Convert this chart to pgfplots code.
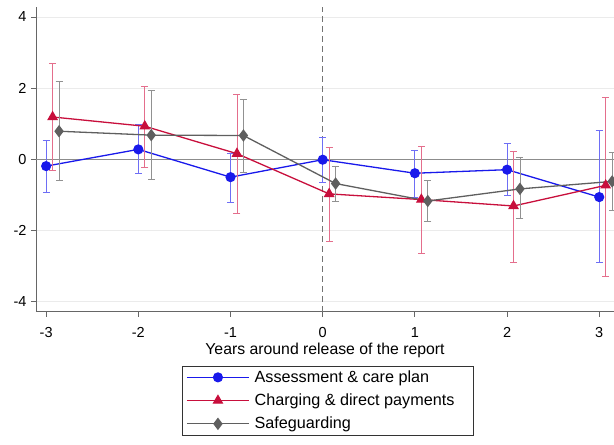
\documentclass[border=0pt]{standalone}
\usepackage{fontspec}
\setmainfont{Liberation Sans}
\usepackage{pgfplots}
\pgfplotsset{compat=1.18}
\definecolor{cblue}{RGB}{25,25,235}
\definecolor{cred}{RGB}{200,15,60}
\definecolor{cgray}{RGB}{95,95,95}
\definecolor{lblue}{RGB}{110,110,245}
\definecolor{lred}{RGB}{228,110,140}
\definecolor{lgray}{RGB}{145,145,145}
\pgfplotstableread{
x y ep em
-3 -0.19 0.72 0.73
-2 0.28 0.71 0.68
-1 -0.50 0.68 0.70
0 -0.01 0.62 0.63
1 -0.39 0.64 0.67
2 -0.29 0.73 0.73
3 -1.06 1.86 1.83
}\assess
\pgfplotstableread{
x y ep em
-2.93 1.19 1.50 1.50
-1.93 0.93 1.13 1.15
-0.93 0.16 1.66 1.69
0.07 -0.97 1.31 1.33
1.07 -1.13 1.48 1.51
2.07 -1.31 1.52 1.58
3.07 -0.73 2.48 2.56
}\charging
\pgfplotstableread{
x y ep em
-2.86 0.79 1.41 1.39
-1.86 0.68 1.26 1.25
-0.86 0.67 1.02 1.04
0.14 -0.68 0.49 0.50
1.14 -1.17 0.57 0.57
2.14 -0.83 0.89 0.84
3.14 -0.62 0.81 0.82
}\safe
\begin{document}
\begin{tikzpicture}
\begin{axis}[
  scale only axis, width=578pt, height=304.7pt,
  xmin=-3.11, xmax=3.16, ymin=-4.28, ymax=4.28,
  axis x line*=bottom, axis y line*=left,
  axis line style={draw=black!60, line width=0.8pt, -},
  xtick={-3,...,3}, ytick={-4,-2,0,2,4},
  tick align=outside, major tick length=5pt,
  tick style={black!60, line width=0.8pt},
  ticklabel style={font=\fontsize{14.5}{16}\selectfont},
  xticklabel style={yshift=-7pt},
  yticklabel style={xshift=-1pt},
  /pgf/number format/assume math mode=true,
  ymajorgrids, grid style={black!8, line width=0.8pt},
  xlabel={Years around release of the report},
  xlabel style={font=\fontsize{15.8}{18}\selectfont, yshift=1pt},
  clip=false,
  legend style={at={(axis description cs:0.2526,-0.178)}, anchor=north west,
    draw=black!80, line width=0.6pt, font=\fontsize{16.2}{19}\selectfont,
    row sep=6pt, inner xsep=4pt, inner ysep=2.5pt,
    nodes={inner xsep=5pt}},
  legend cell align=left,
  legend image code/.code={\draw[mark repeat=2,mark phase=2,#1] plot coordinates {(0pt,0pt) (31pt,0pt) (62pt,0pt)};},
  error bars/y dir=both, error bars/y explicit,
  error bars/error mark options={rotate=90, mark size=3.5pt, line width=0.8pt},
]
\addplot[black!45, line width=0.9pt, forget plot] coordinates {(-3.11,0) (3.16,0)};
\addplot[black!55, line width=0.9pt, dash pattern=on 6pt off 4pt, forget plot] coordinates {(0,-4.28) (0,4.28)};
\addplot[cblue, line width=1.3pt, mark=*, mark size=4.4pt, mark options={solid},
  error bars/error bar style={lblue, line width=0.8pt}]
  table[x=x, y=y, y error plus=ep, y error minus=em] {\assess};
\addlegendentry{Assessment \& care plan}
\addplot[cred, line width=1.3pt, mark=triangle*, mark size=5pt, mark options={solid},
  error bars/error bar style={lred, line width=0.8pt}]
  table[x=x, y=y, y error plus=ep, y error minus=em] {\charging};
\addlegendentry{Charging \& direct payments\rule{10pt}{0pt}}
\addplot[cgray, line width=1.3pt, mark=diamond*, mark size=5.2pt, mark options={solid},
  error bars/error bar style={lgray, line width=0.8pt}]
  table[x=x, y=y, y error plus=ep, y error minus=em] {\safe};
\addlegendentry{Safeguarding}
\end{axis}
\pgfresetboundingbox
\path (-36pt,-133.3pt) rectangle (578pt,311.7pt);
\end{tikzpicture}
\end{document}
